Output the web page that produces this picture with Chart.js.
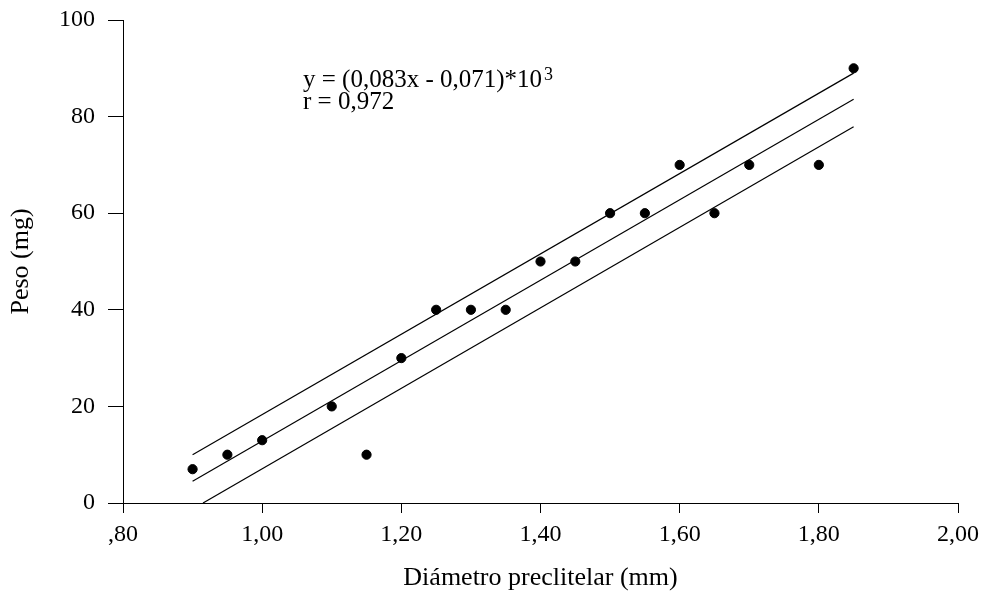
<!DOCTYPE html>
<html>
<head>
<meta charset="utf-8">
<script src="https://cdn.jsdelivr.net/npm/chart.js@4/dist/chart.umd.min.js"></script>
<style>
  html, body { margin: 0; padding: 0; background: #fff; }
  #wrap { width: 988px; height: 598px; position: relative; }
</style>
</head>
<body>
<div id="wrap"><canvas id="c" width="988" height="598"></canvas></div>
<script>
// ---- data ----
const diametro = [0.90, 0.95, 1.00, 1.10, 1.15, 1.20, 1.25, 1.30, 1.35, 1.40, 1.45, 1.50, 1.55, 1.60, 1.65, 1.70, 1.80, 1.85];
const peso     = [7, 10, 13, 20, 10, 30, 40, 40, 40, 50, 50, 60, 60, 70, 60, 70, 70, 90];

const fitX   = [0.90, 1.85];
const fitY   = [4.5, 83.6];
const upperX = [0.90, 1.85];
const upperY = [10.0, 89.0];
const lowerX = [0.915, 1.85];
const lowerY = [0, 77.9];

const xTickLabels = [",80", "1,00", "1,20", "1,40", "1,60", "1,80", "2,00"];
const yTickLabels = ["0", "20", "40", "60", "80", "100"];

const xTitle = "Diámetro preclitelar (mm)";
const yTitle = "Peso (mg)";
const eqLine1 = "y = (0,083x - 0,071)*10";
const eqSup = "3";
const eqLine2 = "r = 0,972";

const toPts = (xs, ys) => xs.map((x, i) => ({ x: x, y: ys[i] }));

const FONT = '"Liberation Serif", "Times New Roman", "DejaVu Serif", serif';

const bgPlugin = {
  id: 'bg',
  beforeDraw(chart) {
    const ctx = chart.ctx;
    ctx.save();
    ctx.fillStyle = '#fff';
    ctx.fillRect(0, 0, chart.width, chart.height);
    ctx.restore();
  }
};

const eqPlugin = {
  id: 'eq',
  afterDraw(chart) {
    const ctx = chart.ctx;
    ctx.save();
    ctx.fillStyle = '#000';
    ctx.textBaseline = 'alphabetic';
    ctx.textAlign = 'left';
    ctx.font = '25px ' + FONT;
    const x0 = 303, y1 = 87, y2 = 109;
    ctx.fillText(eqLine1, x0, y1);
    const w = ctx.measureText(eqLine1).width;
    ctx.font = '18px ' + FONT;
    ctx.fillText(eqSup, x0 + w + 2, y1 - 7);
    ctx.font = '25px ' + FONT;
    ctx.fillText(eqLine2, x0, y2);
    ctx.restore();
  }
};

new Chart(document.getElementById('c'), {
  type: 'scatter',
  data: {
    datasets: [
      {
        label: 'Peso',
        data: toPts(diametro, peso),
        backgroundColor: '#000',
        borderColor: '#000',
        pointRadius: 4.6,
        pointHoverRadius: 4.6,
        order: 0
      },
      {
        label: 'Ajuste',
        data: toPts(fitX, fitY),
        showLine: true,
        borderColor: '#000',
        borderWidth: 1.2,
        pointRadius: 0,
        fill: false,
        order: 1
      },
      {
        label: 'Superior',
        data: toPts(upperX, upperY),
        showLine: true,
        borderColor: '#000',
        borderWidth: 1.2,
        pointRadius: 0,
        fill: false,
        order: 1
      },
      {
        label: 'Inferior',
        data: toPts(lowerX, lowerY),
        showLine: true,
        borderColor: '#000',
        borderWidth: 1.2,
        pointRadius: 0,
        fill: false,
        order: 1
      }
    ]
  },
  options: {
    responsive: false,
    animation: false,
    devicePixelRatio: 1,
    layout: { padding: { top: 20, right: 30, left: 0, bottom: 0 } },
    plugins: {
      legend: { display: false },
      tooltip: { enabled: false },
      title: { display: false }
    },
    scales: {
      x: {
        type: 'linear',
        min: 0.8,
        max: 2.0,
        afterFit(s) { s.height = 95; s.paddingLeft = 0; s.paddingRight = 0; },
        border: { display: true, color: '#000', width: 1 },
        grid: { drawOnChartArea: false, drawTicks: true, color: '#000', tickLength: 10, lineWidth: 1 },
        ticks: {
          stepSize: 0.2,
          color: '#000',
          padding: 7,
          maxRotation: 0,
          font: { family: FONT, size: 24 },
          callback: (v, i) => xTickLabels[i]
        },
        title: {
          display: true,
          text: xTitle,
          color: '#000',
          font: { family: FONT, size: 26 },
          padding: { top: 0, bottom: 4 }
        }
      },
      y: {
        type: 'linear',
        min: 0,
        max: 100,
        afterFit(s) { s.width = 123; s.paddingTop = 0; s.paddingBottom = 0; },
        border: { display: true, color: '#000', width: 1 },
        grid: { drawOnChartArea: false, drawTicks: true, color: '#000', tickLength: 15, lineWidth: 1 },
        ticks: {
          stepSize: 20,
          color: '#000',
          padding: 13,
          font: { family: FONT, size: 24 },
          callback: (v, i) => yTickLabels[i]
        },
        title: {
          display: true,
          text: yTitle,
          color: '#000',
          font: { family: FONT, size: 26 },
          padding: { top: 6, bottom: 0 }
        }
      }
    }
  },
  plugins: [bgPlugin, eqPlugin]
});
</script>
</body>
</html>
